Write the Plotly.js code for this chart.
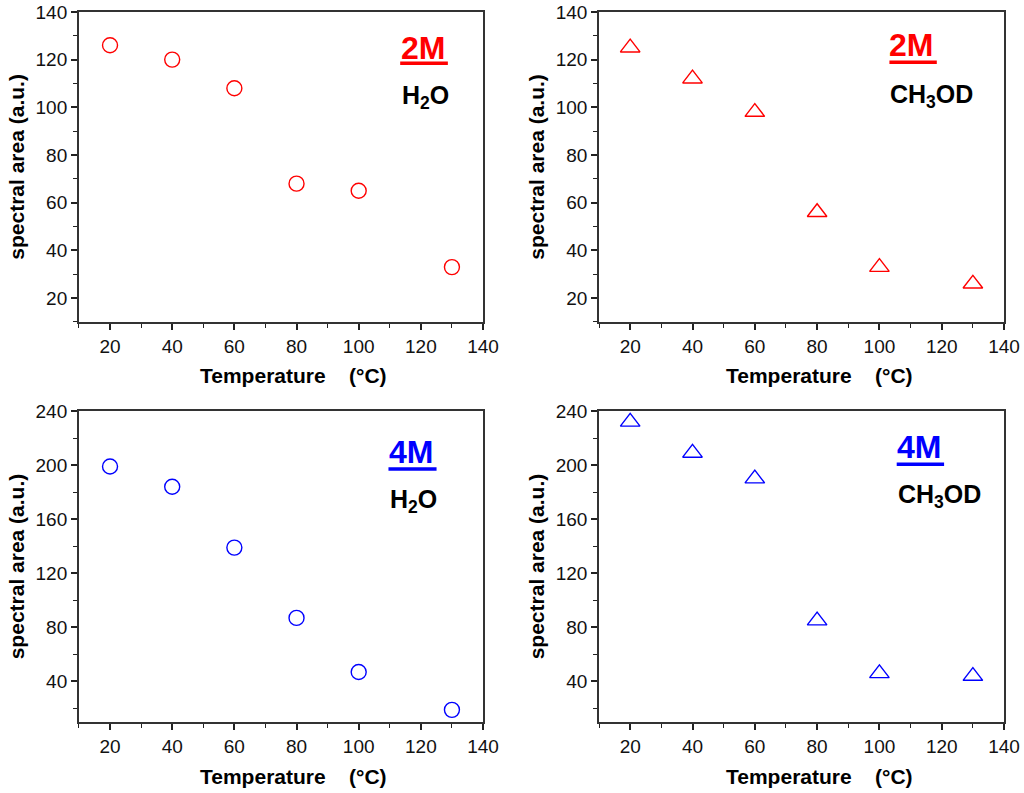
<!DOCTYPE html>
<html>
<head>
<meta charset="utf-8">
<script src="https://cdn.plot.ly/plotly-3.0.1.min.js"></script>
<style>
  html, body { margin: 0; padding: 0; background: #fff; }
  #chart { width: 1024px; height: 793px; }
</style>
</head>
<body>
<div id="chart"></div>
<script>
// values
const temps = [20, 40, 60, 80, 100, 130];
const area2mH2O = [126, 120, 108, 68, 65, 33];
const area2mCH3OD = [125, 112, 98, 56, 33, 26];
const area4mH2O = [199, 184, 139, 87, 47, 19];
const area4mCH3OD = [232, 209, 190, 85, 46, 44];

const xTicks = [20, 40, 60, 80, 100, 120, 140];
const yTicksTop = [20, 40, 60, 80, 100, 120, 140];
const yTicksBottom = [40, 80, 120, 160, 200, 240];

const red = '#ff0000';
const blue = '#0000ff';
const font = 'Liberation Sans, Arial, sans-serif';

const nb = '\u00a0';
const xTitle = 'Temperature' + nb.repeat(4) + '(°C)';
const yTitle = 'spectral area (a.u.)';

function scatter(y, symbol, color, xa, ya) {
    return {
        x: temps,
        y: y,
        xaxis: xa,
        yaxis: ya,
        mode: 'markers',
        type: 'scatter',
        marker: {
            symbol: symbol,
            size: symbol === 'circle-open' ? 15 : 17,
            color: color,
            line: {color: color, width: 1.4}
        },
        hoverinfo: 'x+y',
        showlegend: false
    };
}

const traces = [
    scatter(area2mH2O, 'circle-open', red, 'x', 'y'),
    scatter(area2mCH3OD, 'triangle-up-open', red, 'x2', 'y2'),
    scatter(area4mH2O, 'circle-open', blue, 'x3', 'y3'),
    scatter(area4mCH3OD, 'triangle-up-open', blue, 'x4', 'y4'),
];

function xAxis(domain, anchor) {
    return {
        domain: domain,
        anchor: anchor,
        range: [10, 140],
        tickvals: xTicks,
        ticks: 'outside',
        ticklen: 6,
        tickwidth: 1.6,
        tickcolor: '#222',
        minor: {ticks: 'outside', dtick: 10, tick0: 0, ticklen: 4, tickwidth: 1.4, tickcolor: '#222', showgrid: false},
        showline: true,
        linecolor: '#333',
        linewidth: 1.8,
        mirror: true,
        showgrid: false,
        zeroline: false,
        tickfont: {family: font, size: 19, color: '#111'},
        fixedrange: true
    };
}

function yAxis(domain, anchor, ticks, max, minorStep) {
    return {
        domain: domain,
        anchor: anchor,
        range: [10, max],
        tickvals: ticks,
        ticks: 'outside',
        ticklen: 6,
        tickwidth: 1.6,
        tickcolor: '#222',
        minor: {ticks: 'outside', dtick: minorStep, tick0: 0, ticklen: 4, tickwidth: 1.4, tickcolor: '#222', showgrid: false},
        showline: true,
        linecolor: '#333',
        linewidth: 1.8,
        mirror: true,
        showgrid: false,
        zeroline: false,
        tickfont: {family: font, size: 19, color: '#111'},
        title: {text: yTitle, font: {family: font, size: 21, color: '#000', weight: 'bold'}, standoff: 5},
        fixedrange: true
    };
}

const leftDom = [0.0771, 0.4717];
const rightDom = [0.585, 0.9805];
const topDom = [0.594, 0.985];
const bottomDom = [0.0895, 0.4817];

function label(xa, ya, x, y, text, color, size, anchor) {
    return {
        xref: xa + ' domain',
        yref: ya + ' domain',
        x: x,
        y: y,
        xanchor: anchor || 'left',
        yanchor: 'middle',
        text: text,
        showarrow: false,
        font: {family: font, size: size, color: color, weight: 'bold'}
    };
}

function underline(xa, ya, x0, x1, y, color) {
    return {
        type: 'line',
        xref: xa + ' domain',
        yref: ya + ' domain',
        x0: x0, x1: x1, y0: y, y1: y,
        line: {color: color, width: 3.6}
    };
}

const annotations = [
    label('x', 'y', 0.792, 0.885, '2M', red, 32),
    label('x', 'y', 0.795, 0.727, 'H<sub>2</sub>O', '#000', 25),
    label('x2', 'y2', 0.711, 0.892, '2M', red, 32),
    label('x2', 'y2', 0.714, 0.730, 'CH<sub>3</sub>OD', '#000', 25),
    label('x3', 'y3', 0.762, 0.867, '4M', blue, 32),
    label('x3', 'y3', 0.765, 0.710, 'H<sub>2</sub>O', '#000', 25),
    label('x4', 'y4', 0.731, 0.885, '4M', blue, 32),
    label('x4', 'y4', 0.734, 0.728, 'CH<sub>3</sub>OD', '#000', 25),
    // x titles sit a bit right of the axis centre in the original
    label('x', 'y', 0.53, -0.172, xTitle, '#000', 21, 'center'),
    label('x2', 'y2', 0.545, -0.172, xTitle, '#000', 21, 'center'),
    label('x3', 'y3', 0.53, -0.174, xTitle, '#000', 21, 'center'),
    label('x4', 'y4', 0.545, -0.174, xTitle, '#000', 21, 'center'),
];

const shapes = [
    underline('x', 'y', 0.795, 0.913, 0.8345, red),
    underline('x2', 'y2', 0.717, 0.834, 0.8375, red),
    underline('x3', 'y3', 0.766, 0.885, 0.8135, blue),
    underline('x4', 'y4', 0.735, 0.852, 0.829, blue),
];

const layout = {
    width: 1024,
    height: 793,
    margin: {l: 0, r: 0, t: 0, b: 0},
    paper_bgcolor: '#fff',
    plot_bgcolor: '#fff',
    showlegend: false,
    font: {family: font, color: '#000'},
    xaxis: xAxis(leftDom, 'y'),
    yaxis: yAxis(topDom, 'x', yTicksTop, 140, 10),
    xaxis2: xAxis(rightDom, 'y2'),
    yaxis2: yAxis(topDom, 'x2', yTicksTop, 140, 10),
    xaxis3: xAxis(leftDom, 'y3'),
    yaxis3: yAxis(bottomDom, 'x3', yTicksBottom, 240, 20),
    xaxis4: xAxis(rightDom, 'y4'),
    yaxis4: yAxis(bottomDom, 'x4', yTicksBottom, 240, 20),
    annotations: annotations,
    shapes: shapes
};

Plotly.newPlot('chart', traces, layout, {displayModeBar: false});
</script>
</body>
</html>
